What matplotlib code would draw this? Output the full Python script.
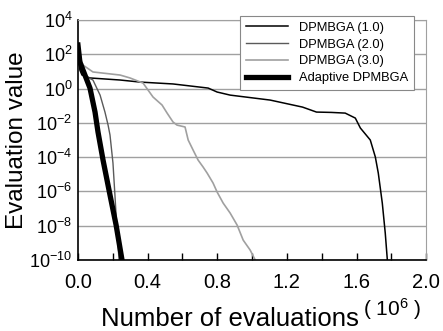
import numpy as np
import matplotlib
matplotlib.use('Agg')
import matplotlib.pyplot as plt
from matplotlib.ticker import FixedLocator, NullLocator, MultipleLocator

plt.rcParams['font.family'] = ['Liberation Sans', 'DejaVu Sans']
plt.rcParams['mathtext.fontset'] = 'custom'
plt.rcParams['mathtext.rm'] = 'Liberation Sans'
plt.rcParams['mathtext.it'] = 'Liberation Sans'

# evaluations (x 10^6) and log10 of evaluation value
x_10 = [0.0, 0.011, 0.023, 0.069, 0.242, 0.357, 0.546, 0.748, 0.799, 0.874, 1.104,
        1.29, 1.37, 1.455, 1.535, 1.593, 1.622, 1.679, 1.708, 1.725, 1.748, 1.765, 1.777]
e_10 = [2.2, 1.08, 0.79, 0.62, 0.50, 0.38, 0.27, 0.03, -0.20, -0.38, -0.67,
        -1.08, -1.37, -1.39, -1.43, -1.72, -2.30, -3.0, -3.99, -4.93, -6.68, -8.43, -10.0]

x_20 = [0.0, 0.023, 0.052, 0.086, 0.127, 0.155, 0.173, 0.184, 0.201, 0.213, 0.224, 0.236]
e_20 = [2.37, 1.2, 0.67, 0.5, -0.38, -1.37, -2.13, -2.71, -4.34, -6.33, -8.25, -10.0]

x_30 = [0.0, 0.029, 0.086, 0.242, 0.299, 0.374, 0.431, 0.483, 0.512, 0.546, 0.569,
        0.615, 0.633, 0.661, 0.690, 0.719, 0.742, 0.776, 0.799, 0.834, 0.874, 0.914,
        0.949, 0.989, 1.018]
e_30 = [2.13, 1.37, 0.97, 0.79, 0.62, 0.32, -0.49, -0.96, -1.43, -1.95, -2.13,
        -2.24, -3.0, -3.58, -4.17, -4.58, -4.93, -5.51, -6.03, -6.68, -7.26, -7.96,
        -8.84, -9.42, -10.0]

x_ad = [0.0, 0.011, 0.040, 0.069, 0.098, 0.115, 0.144, 0.184, 0.219, 0.253]
e_ad = [2.54, 1.55, 0.79, 0.03, -1.37, -2.53, -4.17, -6.21, -7.96, -10.0]

labels = ['DPMBGA (1.0)', 'DPMBGA (2.0)', 'DPMBGA (3.0)', 'Adaptive DPMBGA']
y_ticks = [1e4, 1e2, 1e0, 1e-2, 1e-4, 1e-6, 1e-8, 1e-10]

fig = plt.figure(figsize=(4.43, 3.31), dpi=100)
ax = fig.add_axes([0.176, 0.2145, 0.786, 0.725])

ax.plot(x_10, 10.0 ** np.array(e_10), color='black', lw=1.1, label=labels[0])
ax.plot(x_20, 10.0 ** np.array(e_20), color='#5a5a5a', lw=1.0, label=labels[1])
ax.plot(x_30, 10.0 ** np.array(e_30), color='#a0a0a0', lw=1.2, label=labels[2])
ax.plot(x_ad, 10.0 ** np.array(e_ad), color='black', lw=3.8, label=labels[3])

ax.set_yscale('log')
ax.set_ylim(1e-10, 1e4)
ax.set_xlim(0, 2.0)
ax.yaxis.set_major_locator(FixedLocator(y_ticks))
ax.yaxis.set_minor_locator(NullLocator())
ax.xaxis.set_major_locator(MultipleLocator(0.4))
ax.xaxis.set_minor_locator(MultipleLocator(0.2))
ax.xaxis.set_major_formatter(plt.FuncFormatter(lambda v, p: f'{v:.1f}'))

ax.grid(axis='y', which='major', color='#a0a0a0', lw=1.0)
ax.set_axisbelow(True)
ax.tick_params(axis='y', length=0, pad=4, labelsize=13)
ax.tick_params(axis='x', which='both', direction='in', length=5, width=1,
               pad=9, labelsize=14.5)
for s in ['top', 'right']:
    ax.spines[s].set_color('#a0a0a0')
for s in ['left', 'bottom']:
    ax.spines[s].set_linewidth(1.2)

ax.set_ylabel('Evaluation value', fontsize=17.5, labelpad=1)
fig.text(0.518, 0.016, 'Number of evaluations', fontsize=18.5, ha='center', va='baseline')
fig.text(0.819, 0.045, r'( $10^{6}$ )', fontsize=15, ha='left', va='baseline')

leg = ax.legend(loc='upper right', bbox_to_anchor=(0.950, 0.972),
                bbox_transform=fig.transFigure, fontsize=9.3, frameon=True,
                fancybox=False, edgecolor='#888888', framealpha=1,
                handlelength=3.3, handletextpad=0.85, labelspacing=0.38,
                borderpad=0.45)
leg.get_frame().set_linewidth(0.8)

fig.savefig('out.png', dpi=100)
